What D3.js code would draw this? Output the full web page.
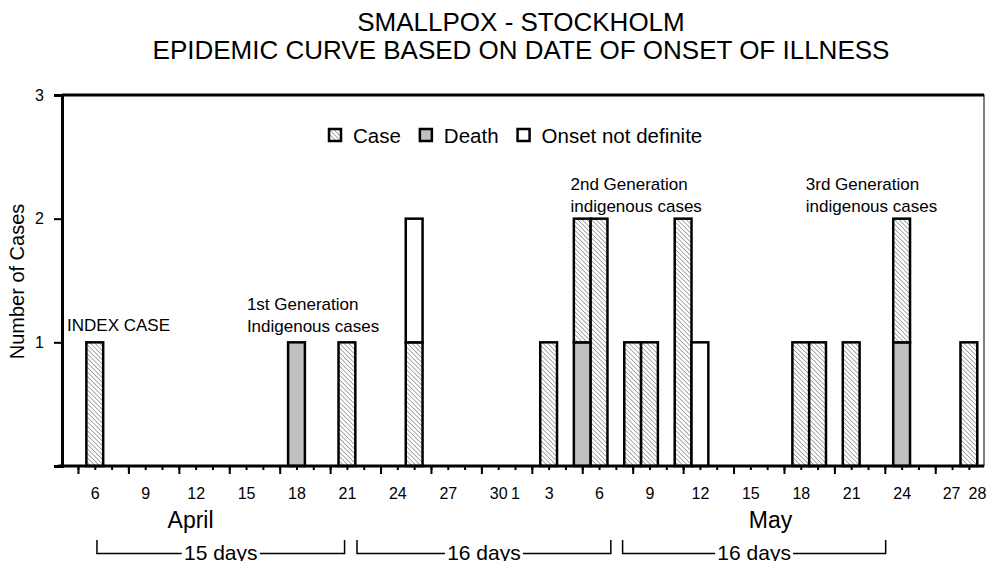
<!DOCTYPE html>
<html>
<head>
<meta charset="utf-8">
<script src="https://cdn.jsdelivr.net/npm/d3@7"></script>
<style>
  body { margin: 0; background: #fff; }
  svg text { font-family: Arial, "Liberation Sans", sans-serif; fill: #000; }
</style>
</head>
<body>
<div id="chart"></div>
<script>
// smallpox, Stockholm - onset dates (day index 0 = April 5)
const onsetDays = ['Apr 6', 'Apr 18', 'Apr 21', 'Apr 25', 'May 3', 'May 5', 'May 6', 'May 8',
  'May 9', 'May 11', 'May 12', 'May 18', 'May 19', 'May 21', 'May 24', 'May 28'];
const deaths = [0, 1, 0, 0, 0, 1, 0, 0, 0, 0, 0, 0, 0, 0, 1, 0];
const cases  = [1, 0, 1, 1, 1, 1, 2, 1, 1, 2, 0, 1, 1, 1, 1, 1];
const onsetNotDefinite = [0, 0, 0, 1, 0, 0, 0, 0, 0, 0, 1, 0, 0, 0, 0, 0];

const tickLabelDays = ['Apr 6', 'Apr 9', 'Apr 12', 'Apr 15', 'Apr 18', 'Apr 21', 'Apr 24', 'Apr 27',
  'Apr 30', 'May 1', 'May 3', 'May 6', 'May 9', 'May 12', 'May 15', 'May 18', 'May 21',
  'May 24', 'May 27', 'May 28'];
// month names, centred on a (fractional) day index
const months = [['April', 6.7], ['May', 41.2]];
// generation intervals: label, from day index, to day index
const generations = [['15 days', 1.13, 15.86], ['16 days', 16.6, 31.7], ['16 days', 32.4, 48.05]];
// annotations: lines, day index, value at last line
const notes = [
  [['INDEX CASE'], -0.65, 1.095],
  [['1st Generation', 'Indigenous cases'], 10.05, 1.083],
  [['2nd Generation', 'indigenous cases'], 29.3, 2.054],
  [['3rd Generation', 'indigenous cases'], 43.3, 2.054]
];

const width = 989, height = 561;
const margin = { left: 62, right: 4, top: 95, bottom: 95 };

// day string -> day index from April 5
function dayIdx(s) {
  const [m, d] = s.split(' ');
  return m === 'Apr' ? +d - 5 : 25 + +d;
}

const svg = d3.select('#chart').append('svg')
  .attr('width', width)
  .attr('height', height);

const defs = svg.append('defs');
defs.append('pattern')
  .attr('id', 'hatch')
  .attr('patternUnits', 'userSpaceOnUse')
  .attr('width', 3.2).attr('height', 3.2)
  .attr('patternTransform', 'rotate(-45)')
  .call(p => {
    p.append('rect').attr('width', 3.2).attr('height', 3.2).attr('fill', '#fff');
    p.append('line').attr('x1', 0).attr('y1', 0).attr('x2', 0).attr('y2', 3.2)
      .attr('stroke', '#444').attr('stroke-width', 0.9);
  });

const x = d3.scaleLinear()
  .domain([-0.95, 53.9])
  .range([margin.left, width - margin.right - 1]);
const y = d3.scaleLinear()
  .domain([0, 3])
  .range([height - margin.bottom, margin.top]);
const step = x(1) - x(0);

// stacked bars
const table = onsetDays.map((d, i) => ({ day: dayIdx(d), death: deaths[i], cases: cases[i], onset: onsetNotDefinite[i] }));
const series = d3.stack().keys(['death', 'cases', 'onset'])(table);
const fills = { death: '#c0c0c0', cases: 'url(#hatch)', onset: '#fff' };

// plot frame
svg.append('rect')
  .attr('x', margin.left).attr('y', margin.top)
  .attr('width', x.range()[1] - margin.left)
  .attr('height', y(0) - margin.top)
  .attr('fill', 'none').attr('stroke', '#000').attr('stroke-width', 1);
svg.append('line')
  .attr('x1', margin.left).attr('x2', x.range()[1])
  .attr('y1', y(3)).attr('y2', y(3))
  .attr('stroke', '#000').attr('stroke-width', 3);

series.forEach(s => {
  svg.append('g').selectAll('rect')
    .data(s.filter(d => d[1] > d[0]))
    .enter()
    .append('rect')
    .attr('x', d => x(d.data.day) - step / 2)
    .attr('width', step)
    .attr('y', d => y(d[1]))
    .attr('height', d => y(d[0]) - y(d[1]))
    .attr('fill', fills[s.key])
    .attr('stroke', '#000')
    .attr('stroke-width', 2.5);
});

// x axis: minor + major ticks, then labels
const allDays = d3.range(0, 54);
const xMinor = svg.append('g')
  .attr('transform', `translate(0,${y(0)})`)
  .call(d3.axisBottom(x).tickValues(allDays).tickSize(4).tickFormat(''));
const xMajor = svg.append('g')
  .attr('transform', `translate(0,${y(0)})`)
  .call(d3.axisBottom(x).tickValues(allDays.filter(d => d % 3 === 0)).tickSize(8).tickFormat(''));
[xMinor, xMajor].forEach(g => {
  g.select('.domain').remove();
  g.selectAll('line').attr('stroke-width', 2);
});
const xLabels = svg.append('g')
  .attr('transform', `translate(0,${y(0)})`)
  .call(d3.axisBottom(x).tickValues(tickLabelDays.map(dayIdx))
    .tickSize(0).tickPadding(22)
    .tickFormat(d => tickLabelDays.find(s => dayIdx(s) === d).split(' ')[1]));
xLabels.select('.domain').remove();
xLabels.selectAll('text').style('font-size', '16px').attr('font-family', null);
// last two labels sit close together, nudge them apart like the original
xLabels.selectAll('text').filter((d, i, n) => i === n.length - 1).attr('dx', 8);
xLabels.selectAll('text').filter((d, i, n) => i === n.length - 2).attr('dx', -1);

svg.append('line')
  .attr('x1', margin.left - 4).attr('x2', x.range()[1])
  .attr('y1', y(0)).attr('y2', y(0))
  .attr('stroke', '#000').attr('stroke-width', 3);

// y axis
const yAxis = svg.append('g')
  .attr('transform', `translate(${margin.left},0)`)
  .call(d3.axisLeft(y).tickValues([1, 2, 3]).tickSize(8).tickPadding(10).tickFormat(d3.format('d')));
yAxis.select('.domain').attr('stroke-width', 3);
yAxis.selectAll('line').attr('stroke-width', 2);
yAxis.selectAll('text').style('font-size', '16px').attr('font-family', null);

svg.append('text')
  .attr('transform', `translate(24,${(y(1) + y(2)) / 2 + 1}) rotate(-90)`)
  .attr('text-anchor', 'middle')
  .style('font-size', '20px')
  .text('Number of Cases');

// month labels
svg.selectAll('.month')
  .data(months)
  .enter()
  .append('text')
  .attr('class', 'month')
  .attr('x', d => x(d[1]))
  .attr('y', 528)
  .attr('text-anchor', 'middle')
  .style('font-size', '23px')
  .text(d => d[0]);

// generation intervals
const br = svg.selectAll('.gen')
  .data(generations)
  .enter()
  .append('g')
  .attr('class', 'gen');
br.append('path')
  .attr('d', d => `M${x(d[1])},540V553.5H${x(d[2])}V540`)
  .attr('fill', 'none').attr('stroke', '#000').attr('stroke-width', 1.5);
br.append('rect')
  .attr('x', d => (x(d[1]) + x(d[2])) / 2 - 39)
  .attr('y', 544).attr('width', 78).attr('height', 17)
  .attr('fill', '#fff');
br.append('text')
  .attr('x', d => (x(d[1]) + x(d[2])) / 2)
  .attr('y', 560)
  .attr('text-anchor', 'middle')
  .style('font-size', '21px')
  .text(d => d[0]);

// annotations
notes.forEach(n => {
  const t = svg.append('text')
    .attr('x', x(n[1]))
    .attr('y', y(n[2]) - (n[0].length - 1) * 22)
    .style('font-size', '17px');
  n[0].forEach((line, i) => {
    t.append('tspan').attr('x', x(n[1])).attr('dy', i ? 22 : 0).text(line);
  });
});

// legend
const legendKeys = [['Case', 'url(#hatch)'], ['Death', '#c0c0c0'], ['Onset not definite', '#fff']];
let lx = 329;
legendKeys.forEach(k => {
  svg.append('rect')
    .attr('x', lx).attr('y', 129).attr('width', 12).attr('height', 12)
    .attr('fill', k[1]).attr('stroke', '#000').attr('stroke-width', 2.5);
  const t = svg.append('text')
    .attr('x', lx + 24).attr('y', 143)
    .style('font-size', '20.5px')
    .text(k[0]);
  lx += 24 + t.node().getComputedTextLength() + 19;
});

// title
svg.append('text')
  .attr('x', 521).attr('y', 31)
  .attr('text-anchor', 'middle')
  .style('font-size', '26px')
  .text('SMALLPOX - STOCKHOLM');
svg.append('text')
  .attr('x', 521).attr('y', 59)
  .attr('text-anchor', 'middle')
  .style('font-size', '26px')
  .text('EPIDEMIC CURVE BASED ON DATE OF ONSET OF ILLNESS');
</script>
</body>
</html>
